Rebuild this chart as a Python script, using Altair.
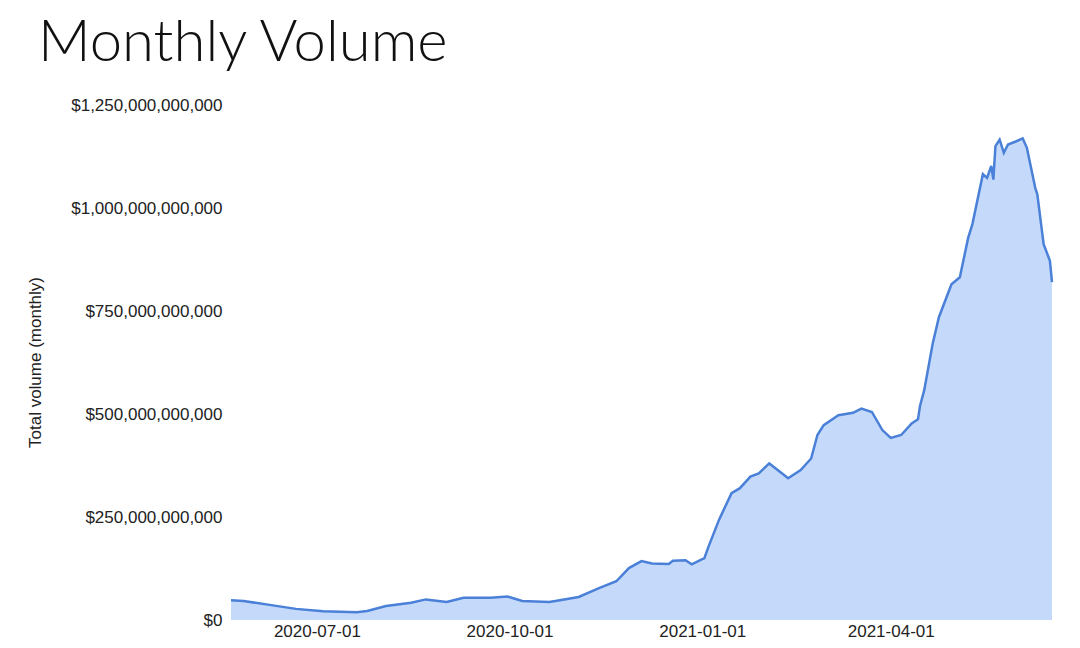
import altair as alt
import pandas as pd

# ---- data ----
dates = [
    "2020-05-21", "2020-05-27", "2020-06-10", "2020-06-21", "2020-07-04", "2020-07-20",
    "2020-07-25", "2020-08-03", "2020-08-15", "2020-08-22", "2020-09-01", "2020-09-09",
    "2020-09-22", "2020-09-30", "2020-10-07", "2020-10-20", "2020-10-25", "2020-11-03",
    "2020-11-13", "2020-11-21", "2020-11-27", "2020-12-03", "2020-12-08", "2020-12-16",
    "2020-12-18", "2020-12-24", "2020-12-27", "2021-01-01", "2021-01-02", "2021-01-04",
    "2021-01-09", "2021-01-15", "2021-01-19", "2021-01-24", "2021-01-28", "2021-02-02",
    "2021-02-08", "2021-02-11", "2021-02-17", "2021-02-22", "2021-02-25", "2021-02-28",
    "2021-03-07", "2021-03-14", "2021-03-18", "2021-03-23", "2021-03-28", "2021-04-01",
    "2021-04-06", "2021-04-11", "2021-04-14", "2021-04-15", "2021-04-17", "2021-04-21",
    "2021-04-24", "2021-04-30", "2021-05-04", "2021-05-08", "2021-05-10", "2021-05-15",
    "2021-05-17", "2021-05-19", "2021-05-20", "2021-05-21", "2021-05-23", "2021-05-25",
    "2021-05-27", "2021-05-31", "2021-06-03", "2021-06-05", "2021-06-09", "2021-06-10",
    "2021-06-13", "2021-06-16", "2021-06-17",
]
volume_billions = [
    48, 46, 35.5, 27, 21, 18.6,
    21.8, 34, 42, 50, 43.5, 54,
    54, 57, 46, 43.5, 48, 56,
    78, 94, 126, 143, 137, 136,
    144, 145, 135, 148, 150, 178,
    243, 308, 320, 348, 356, 380,
    356, 344, 364, 392, 449, 473,
    497, 503, 513, 505, 461, 442,
    449, 477, 487, 520, 558, 670,
    735, 815, 832, 928, 961, 1082,
    1073, 1102, 1069, 1150, 1166, 1134,
    1154, 1162, 1169, 1146, 1049, 1033,
    912, 872, 820,
]
y_ticks = [0, 250e9, 500e9, 750e9, 1000e9, 1250e9]
x_ticks = ["2020-07-01", "2020-10-01", "2021-01-01", "2021-04-01"]
x_start = "2020-05-21"
x_end = "2021-06-17"

df = pd.DataFrame({"date": dates, "volume": [v * 1e9 for v in volume_billions]})


def dt(s):
    return alt.DateTime(year=int(s[:4]), month=int(s[5:7]), date=int(s[8:10]), utc=True)


FONT = "Liberation Sans, Arial, sans-serif"
FILL = "#c5dafa"
LINE = "#4a80d8"
TEXT = "#222222"

chart = (
    alt.Chart(df)
    .mark_area(
        color=FILL,
        opacity=1,
        line=alt.OverlayMarkDef(color=LINE, strokeWidth=2.5),
        interpolate="linear",
    )
    .encode(
        x=alt.X(
            "date:T",
            scale=alt.Scale(type="utc", domain=[dt(x_start), dt(x_end)]),
            axis=alt.Axis(
                values=[dt(s) for s in x_ticks],
                format="%Y-%m-%d",
                title=None,
                ticks=False,
                domain=False,
                grid=False,
                labelFont=FONT,
                labelFontSize=17,
                labelColor=TEXT,
                labelPadding=3,
            ),
        ),
        y=alt.Y(
            "volume:Q",
            scale=alt.Scale(domain=[0, 1.25e12], nice=False),
            axis=alt.Axis(
                values=y_ticks,
                format="$,.0f",
                title="Total volume (monthly)",
                ticks=False,
                domain=False,
                grid=False,
                labelFont=FONT,
                labelFontSize=17,
                labelColor=TEXT,
                labelPadding=9,
                titleFont=FONT,
                titleFontSize=17,
                titleFontWeight="normal",
                titleColor=TEXT,
                titleX=-196,
                titleY=257,
                titleAngle=270,
                titleAlign="center",
                titleBaseline="middle",
            ),
        ),
    )
    .properties(
        width=821,
        height=515,
        autosize=alt.AutoSizeParams(type="none"),
        padding={"left": 223, "top": 97, "right": 20, "bottom": 20},
        title=alt.TitleParams(
            text="Monthly Volume",
            anchor="start",
            frame="group",
            dx=-193,
            fontSize=58,
            font="Lato, sans-serif",
            fontWeight=300,
            color="#111111",
            offset=23,
        ),
    )
    .configure_view(stroke=None)
)

chart.save("out.html", embed_options={"renderer": "svg", "actions": False})
